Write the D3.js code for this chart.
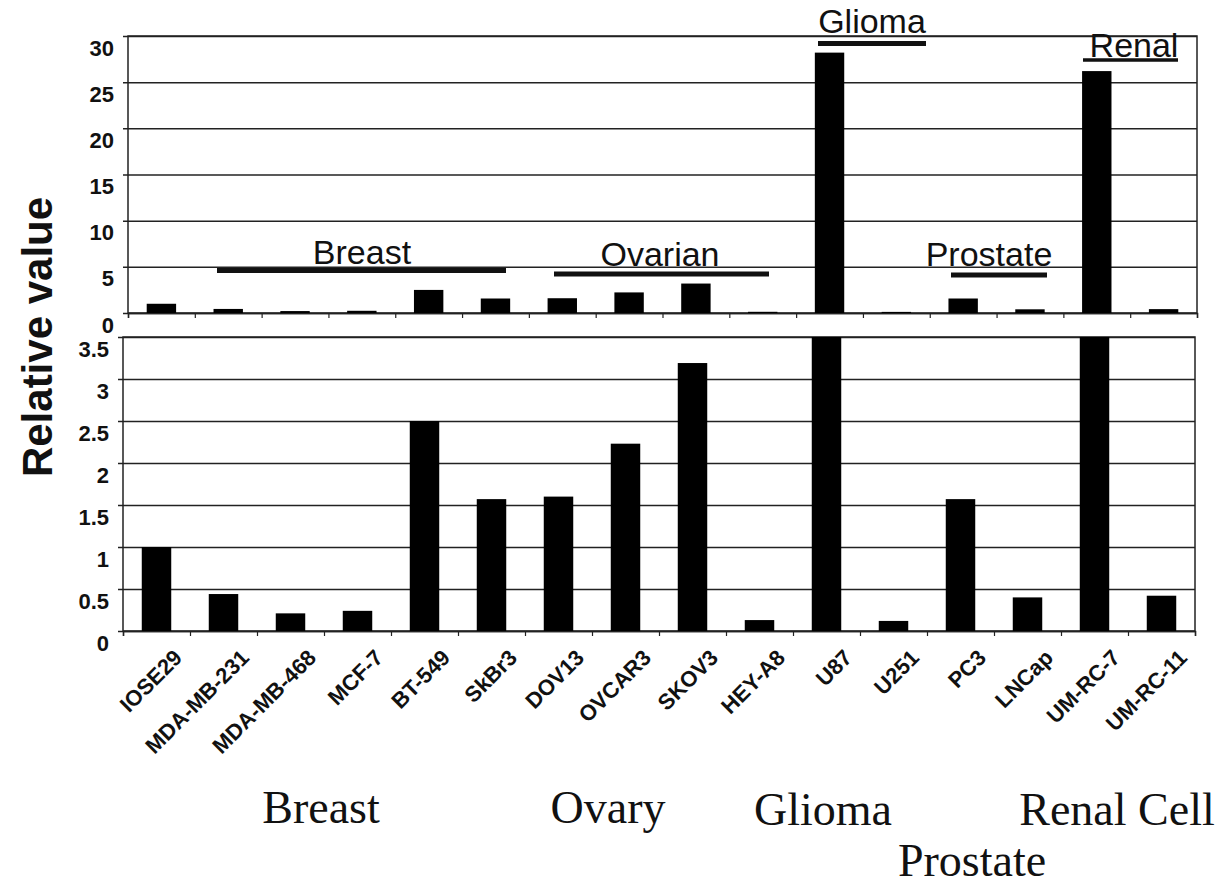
<!DOCTYPE html>
<html>
<head>
<meta charset="utf-8">
<script src="https://cdn.jsdelivr.net/npm/d3@7"></script>
<style>
  body { margin: 0; background: #fff; }
  svg { display: block; font-family: "Liberation Sans", Arial, Helvetica, sans-serif; }
  .grid line { stroke: #222; stroke-width: 1.5; }
  .grid .domain { display: none; }
  .grid text { font-size: 22px; font-weight: bold; fill: #111; }
  .xticks line { stroke: #222; stroke-width: 1.2; }
  .xticks .domain { stroke: #222; stroke-width: 1.5; }
  .xticks text { display: none; }
</style>
</head>
<body>
<svg width="1226" height="888"></svg>
<script>
// cell lines, left to right
var categories = ['IOSE29', 'MDA-MB-231', 'MDA-MB-468', 'MCF-7', 'BT-549', 'SkBr3',
  'DOV13', 'OVCAR3', 'SKOV3', 'HEY-A8', 'U87', 'U251', 'PC3', 'LNCap', 'UM-RC-7', 'UM-RC-11'];
// relative value
var values = [1.0, 0.44, 0.21, 0.24, 2.5, 1.57, 1.6, 2.23, 3.19, 0.13, 28.2, 0.12, 1.57, 0.40, 26.2, 0.42];

var topTicks = [0, 5, 10, 15, 20, 25, 30];
var bottomTicks = [0, 0.5, 1, 1.5, 2, 2.5, 3, 3.5];

// labels over the upper panel
var panelGroups = ['Breast', 'Ovarian', 'Glioma', 'Prostate', 'Renal'];
// labels under the chart
var tissueGroups = ['Breast', 'Ovary', 'Glioma', 'Renal Cell', 'Prostate'];

var svg = d3.select('svg');

// layout of the two panels
var topP = { left: 128, right: 1197, top: 36, bottom: 313 };
var botP = { left: 123, right: 1195, top: 337, bottom: 631 };

var xTop = d3.scaleBand().domain(categories).range([topP.left, topP.right]);
var xBot = d3.scaleBand().domain(categories).range([botP.left, botP.right]);
var yTop = d3.scaleLinear().domain([0, 30]).range([topP.bottom, topP.top]);
var yBot = d3.scaleLinear().domain([0, 3.5]).range([botP.bottom, botP.top]);
var barFrac = 0.44;

function drawPanel(p, x, y, ticks, fmt, clipId) {
    var g = svg.append('g');

    // gridlines + tick labels
    g.append('g')
        .attr('class', 'grid')
        .attr('transform', 'translate(' + (p.left - 5) + ',0)')
        .call(d3.axisLeft(y).tickValues(ticks).tickFormat(fmt)
            .tickSizeInner(-(p.right - p.left + 5)).tickSizeOuter(0).tickPadding(9))
        .selectAll('text')
        .attr('dy', null)
        .attr('y', 19);

    // frame
    g.append('rect')
        .attr('x', p.left).attr('y', p.top)
        .attr('width', p.right - p.left).attr('height', p.bottom - p.top)
        .attr('fill', 'none').attr('stroke', '#222').attr('stroke-width', 1.5);

    // tick marks between categories
    var idx = d3.scaleLinear().domain([0, categories.length]).range([p.left, p.right]);
    g.append('g')
        .attr('class', 'xticks')
        .attr('transform', 'translate(0,' + p.bottom + ')')
        .call(d3.axisBottom(idx).tickValues(d3.range(categories.length + 1)).tickSize(5));

    svg.append('clipPath').attr('id', clipId)
        .append('rect')
        .attr('x', p.left).attr('y', p.top)
        .attr('width', p.right - p.left).attr('height', p.bottom - p.top);

    var bw = x.bandwidth() * barFrac;
    g.append('g')
        .attr('clip-path', 'url(#' + clipId + ')')
        .selectAll('rect')
        .data(categories)
        .enter()
        .append('rect')
        .attr('x', function(d) { return x(d) + (x.bandwidth() - bw) / 2; })
        .attr('width', bw)
        .attr('y', function(d, i) { return y(values[i]); })
        .attr('height', function(d, i) { return y(0) - y(values[i]); })
        .attr('fill', '#000');
}

drawPanel(topP, xTop, yTop, topTicks, d3.format('d'), 'clipTop');
drawPanel(botP, xBot, yBot, bottomTicks, function(d) { return String(d); }, 'clipBot');

// upper panel group labels with their bars
var panelLayout = {
    'Breast':   { tx: 362, ty: 264, x1: 217, x2: 506, ly: 270.5, lw: 5 },
    'Ovarian':  { tx: 660, ty: 266, x1: 554, x2: 769, ly: 274, lw: 5 },
    'Glioma':   { tx: 872, ty: 33, x1: 818, x2: 926, ly: 43.5, lw: 5 },
    'Prostate': { tx: 989, ty: 266, x1: 951, x2: 1047, ly: 275, lw: 5 },
    'Renal':    { tx: 1134, ty: 57, x1: 1083, x2: 1178, ly: 60, lw: 3.5 }
};
var ann = svg.append('g');
panelGroups.forEach(function(name) {
    var a = panelLayout[name];
    ann.append('rect')
        .attr('x', a.x1).attr('y', a.ly - a.lw / 2)
        .attr('width', a.x2 - a.x1).attr('height', a.lw)
        .attr('fill', '#111');
    ann.append('text')
        .attr('x', a.tx).attr('y', a.ty)
        .attr('text-anchor', 'middle')
        .style('font-size', '34px')
        .style('fill', '#111')
        .text(name);
});

// rotated cell line names
svg.append('g').selectAll('text')
    .data(categories)
    .enter()
    .append('text')
    .attr('transform', function(d) {
        return 'translate(' + (xBot(d) + xBot.bandwidth() / 2 + 27) + ',659) rotate(-45)';
    })
    .attr('text-anchor', 'end')
    .style('font-size', '22px')
    .style('font-weight', 'bold')
    .style('fill', '#111')
    .text(function(d) { return d; });

// y title
svg.append('text')
    .attr('transform', 'translate(52,337) rotate(-90)')
    .attr('text-anchor', 'middle')
    .style('font-size', '42px')
    .style('font-weight', 'bold')
    .style('fill', '#111')
    .text('Relative value');

// tissue labels under the chart
var tissuePos = {
    'Breast': [321, 823], 'Ovary': [608, 823], 'Glioma': [823, 825],
    'Renal Cell': [1117, 825], 'Prostate': [972, 876]
};
svg.append('g').selectAll('text')
    .data(tissueGroups)
    .enter()
    .append('text')
    .attr('x', function(d) { return tissuePos[d][0]; })
    .attr('y', function(d) { return tissuePos[d][1]; })
    .attr('text-anchor', 'middle')
    .style('font-family', '"Liberation Serif", "Times New Roman", serif')
    .style('font-size', '46px')
    .style('fill', '#111')
    .text(function(d) { return d; });
</script>
</body>
</html>
